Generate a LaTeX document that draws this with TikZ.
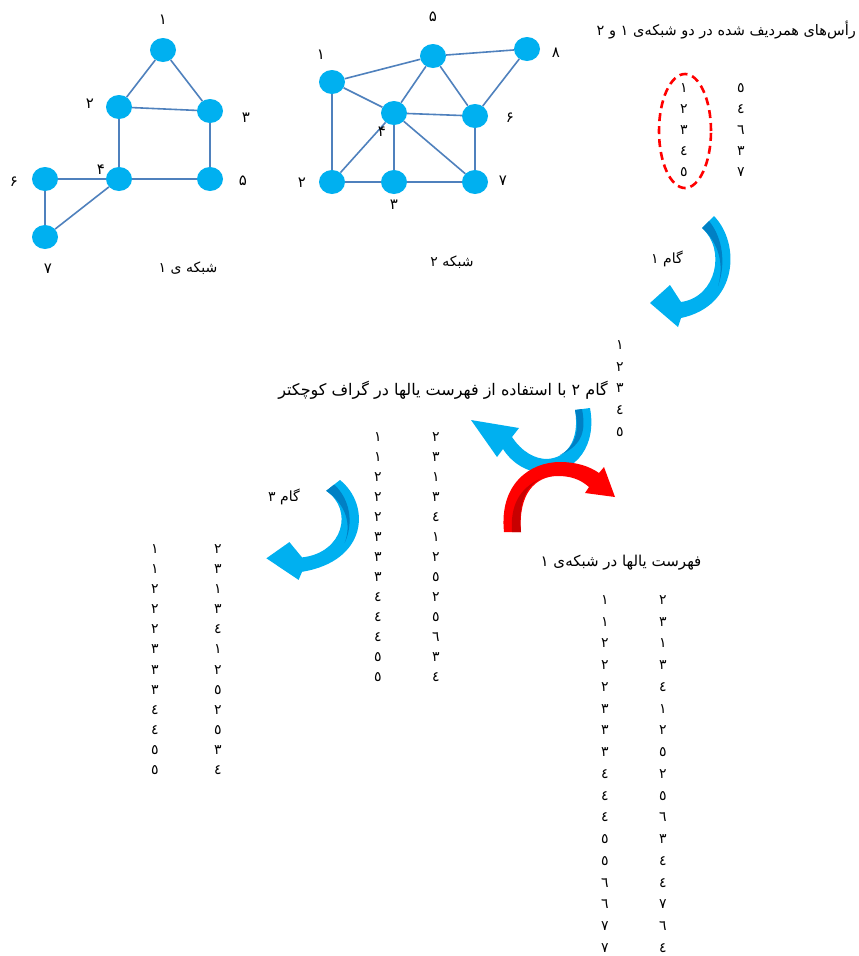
\documentclass[tikz,border=0pt]{standalone}
\usepackage{fontspec}
\setmainfont{DejaVu Sans}
\newfontfamily\arabicfont[Script=Arabic]{DejaVu Sans}
\TeXXeTstate=1
\usetikzlibrary{shapes.geometric}
\definecolor{nodeblue}{RGB}{0,176,240}
\definecolor{edgeblue}{RGB}{79,129,189}
\definecolor{arrblue}{RGB}{0,176,240}
\definecolor{arrdark}{RGB}{0,128,196}
\definecolor{arrred}{RGB}{255,0,0}
\definecolor{reddark}{RGB}{200,0,0}
\newcommand\gamshape{%
  \fill[arrblue] (0,0) .. controls (27,28) and (24,90) .. (-33,102) -- (-36,111) -- (-64,87) -- (-44,69) -- (-33,86) .. controls (3,81) and (12,33) .. (-12,12) -- cycle;
  \fill[arrdark] (-12,12) .. controls (6,28) and (10,50) .. (4,70) .. controls (12,48) and (9,22) .. (-5,5) -- cycle;}
\begin{document}
\begin{tikzpicture}[x=1pt,y=-1pt,
  vtx/.style={ellipse, fill=nodeblue, minimum width=26pt, minimum height=24pt, inner sep=0pt},
  edge/.style={draw=edgeblue, line width=1.6pt},
  lbl/.style={font=\arabicfont\fontsize{15}{17}\selectfont, inner sep=0pt},
  dig/.style={font=\arabicfont\fontsize{14}{16}\selectfont, inner sep=0pt},
  txt/.style={font=\arabicfont\fontsize{14}{16}\selectfont, inner sep=0pt}]
\fill[white] (0,0) rectangle (859,956);
\useasboundingbox (0,0) rectangle (859,956);

% graph 1
\node[vtx] (a1) at (163,50) {};
\node[vtx] (a2) at (119,107) {};
\node[vtx] (a3) at (210,111) {};
\node[vtx] (a4) at (119,179) {};
\node[vtx] (a5) at (210,179) {};
\node[vtx] (a6) at (45,179) {};
\node[vtx] (a7) at (45,237) {};
\foreach \u/\v in {a1/a2,a1/a3,a2/a3,a2/a4,a3/a5,a4/a5,a4/a6,a6/a7,a7/a4}
  \draw[edge] (\u) -- (\v);
\node[lbl] (la1) at (163,20) {۱};
\node[lbl] (la2) at (90,104) {۲};
\node[lbl] (la3) at (246,118) {۳};
\node[lbl] (la4) at (101,170) {۴};
\node[lbl] (la5) at (243,181) {۵};
\node[lbl] (la6) at (14,182) {۶};
\node[lbl] (la7) at (48,269) {۷};
\node[txt] (g1) at (188,268) {\beginR شبکه ی ۱\endR};

% graph 2
\node[vtx] (b1) at (332,82) {};
\node[vtx] (b2) at (332,182) {};
\node[vtx] (b3) at (394,182) {};
\node[vtx] (b4) at (394,113) {};
\node[vtx] (b5) at (433,56) {};
\node[vtx] (b6) at (475,116) {};
\node[vtx] (b7) at (475,182) {};
\node[vtx] (b8) at (527,49) {};
\foreach \u/\v in {b1/b5,b5/b8,b1/b4,b1/b2,b5/b4,b5/b6,b8/b6,b4/b6,b4/b2,b4/b3,b4/b7,b2/b3,b3/b7,b6/b7}
  \draw[edge] (\u) -- (\v);
\node[lbl] (lb5) at (433,17) {۵};
\node[lbl] (lb1) at (321,55) {۱};
\node[lbl] (lb8) at (556,53) {۸};
\node[lbl] (lb6) at (510,118) {۶};
\node[lbl] (lb4) at (382,132) {۴};
\node[lbl] (lb2) at (302,183) {۲};
\node[lbl] (lb7) at (503,181) {۷};
\node[lbl] (lb3) at (394,205) {۳};
\node[txt] (g2) at (452,262) {\beginR شبکه ۲\endR};

% header and matched vertices
\node[txt, font=\arabicfont\fontsize{14.5}{17}\selectfont, anchor=east] (head) at (856,30) {\beginR رأس‌های همردیف شده در دو شبکه‌ی ۱ و ۲\endR};
\node[ellipse, draw=arrred, line width=2.6pt, dash pattern=on 8pt off 5pt,
      minimum width=52pt, minimum height=114pt] (ring) at (685,131) {};
\foreach \p/\q [count=\i from 0] in {١/٥,٢/٤,٣/٦,٤/٣,٥/٧}{
  \node[dig] (ta\i) at (684,88+21*\i) {\p};
  \node[dig] (tb\i) at (741,88+21*\i) {\q};
}

% step 1 arrow
\begin{scope}[shift={(714,216)}] \gamshape \end{scope}
\node[txt] (s1) at (667,259) {\beginR گام ۱\endR};

% vertical list
\foreach \p [count=\i from 0] in {١,٢,٣,٤,٥}
  \node[dig] (v\i) at (620,345+21.75*\i) {\p};

% step 2
\node[txt, font=\arabicfont\fontsize{16}{18}\selectfont] (s2) at (443,390) {\beginR گام ۲ با استفاده از فهرست یالها در گراف کوچکتر\endR};
\fill[arrblue] (590,408) .. controls (597,446) and (576,472) .. (546,473) .. controls (527,473) and (512,463) .. (503,449) -- (497,457) -- (471,420) -- (519,428) -- (512,437) .. controls (522,452) and (535,459) .. (547,459) .. controls (567,458) and (580,440) .. (575,410) -- cycle;
\fill[arrdark] (575,410) .. controls (580,432) and (575,447) .. (560,455) .. controls (583,445) and (586,430) .. (582,409) -- cycle;
\fill[arrred] (504,532) .. controls (499,484) and (530,462) .. (560,462) .. controls (576,462) and (589,466) .. (599,473) -- (604,467) -- (615,497) -- (585,493) -- (589,487) .. controls (580,479) and (570,476) .. (558,476) .. controls (535,476) and (518,494) .. (521,532) -- cycle;
\fill[reddark] (521,532) .. controls (518,505) and (525,487) .. (540,479) .. controls (520,488) and (510,505) .. (512,532) -- cycle;

% middle list
\foreach \p/\q [count=\i from 0] in {١/٢,١/٣,٢/١,٢/٣,٢/٤,٣/١,٣/٢,٣/٥,٤/٢,٤/٥,٤/٦,٥/٣,٥/٤}{
  \node[dig] (ma\i) at (378,437+20*\i) {\p};
  \node[dig] (mb\i) at (436,437+20*\i) {\q};
}

% step 3
\begin{scope}[shift={(340,480)}, xscale=1.15, yscale=0.9] \gamshape \end{scope}
\node[txt] (s3) at (284,497) {\beginR گام ۳\endR};
\foreach \p/\q [count=\i from 0] in {١/٢,١/٣,٢/١,٢/٣,٢/٤,٣/١,٣/٢,٣/٥,٤/٢,٤/٥,٥/٣,٥/٤}{
  \node[dig] (la\i) at (155,549+20.1*\i) {\p};
  \node[dig] (lb\i) at (218,549+20.1*\i) {\q};
}

% edge list of network 1
\node[txt, font=\arabicfont\fontsize{15}{17}\selectfont] (e1) at (621,563) {\beginR فهرست یالها در شبکه‌ی ۱\endR};
\foreach \p/\q [count=\i from 0] in {١/٢,١/٣,٢/١,٢/٣,٢/٤,٣/١,٣/٢,٣/٥,٤/٢,٤/٥,٤/٦,٥/٣,٥/٤,٦/٤,٦/٧,٧/٦,٧/٤}{
  \node[dig] (ra\i) at (605,600+21.75*\i) {\p};
  \node[dig] (rb\i) at (663,600+21.75*\i) {\q};
}
\end{tikzpicture}
\end{document}
